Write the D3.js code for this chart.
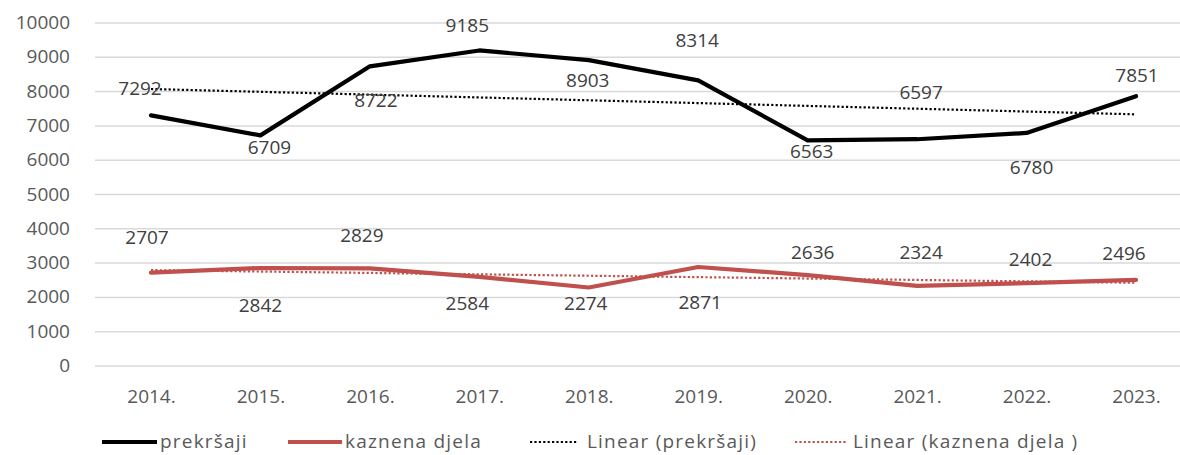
<!DOCTYPE html>
<html>
<head>
<meta charset="utf-8">
<script src="https://cdn.jsdelivr.net/npm/d3@7"></script>
<style>
  html, body { margin: 0; padding: 0; background: #fff; }
  svg { display: block; font-family: "Open Sans", sans-serif; }
</style>
</head>
<body>
<svg id="chart" width="1180" height="455"></svg>
<script>
"use strict";

const years = ["2014.", "2015.", "2016.", "2017.", "2018.", "2019.", "2020.", "2021.", "2022.", "2023."];
const prekrsaji = [7292, 6709, 8722, 9185, 8903, 8314, 6563, 6597, 6780, 7851];
const kaznenaDjela = [2707, 2842, 2829, 2584, 2274, 2871, 2636, 2324, 2402, 2496];
const yTicks = [0, 1000, 2000, 3000, 4000, 5000, 6000, 7000, 8000, 9000, 10000];

// label nudges (px, relative to the point) - copied from how excel placed them
const prekrsajiLabelDx = [-11, 9, 6, -12, -1, -1, 4, 4, 5, 1];
const prekrsajiLabelDy = [-27, 12, 34, -25, 20, -40, 11, -47, 34, -21];
const kaznenaLabelDx = [-4, 0, -8, -12, -3, 2, 5, 4, 4, -12];
const kaznenaLabelDy = [-35, 37, -33, 26, 16, 35, -23, -34, -24, -27];

const width = 1180;
const height = 455;
const plot = { left: 95, right: 1180, top: 22.5, bottom: 365.5 };

const svg = d3.select("#chart");

const x = d3.scalePoint()
  .domain(years)
  .range([plot.left + 56, plot.right - 44]);

const y = d3.scaleLinear()
  .domain([0, 10000])
  .range([plot.bottom, plot.top]);

// gridlines + y labels
const yAxis = svg.append("g")
  .attr("transform", `translate(${plot.left},0)`)
  .call(d3.axisLeft(y).tickValues(yTicks).tickSize(-(plot.right - plot.left)).tickPadding(25).tickFormat(d3.format("d")));
yAxis.select(".domain").remove();
yAxis.selectAll(".tick line").attr("stroke", "#d9d9d9").attr("stroke-width", 1.5);
yAxis.selectAll(".tick text")
  .attr("fill", "#595959")
  .style("font-size", "19px")
  .style("font-family", "'Open Sans', sans-serif");

const xAxis = svg.append("g")
  .attr("transform", `translate(0,${plot.bottom})`)
  .call(d3.axisBottom(x).tickSize(0).tickPadding(24));
xAxis.select(".domain").remove();
xAxis.selectAll(".tick text")
  .attr("fill", "#595959")
  .style("font-size", "19px")
  .style("font-family", "'Open Sans', sans-serif");

function trend(values) {
  const mx = d3.mean(values, (d, i) => i);
  const my = d3.mean(values);
  let sxy = 0, sxx = 0;
  values.forEach((v, i) => { sxy += (i - mx) * (v - my); sxx += (i - mx) * (i - mx); });
  const slope = sxy / sxx;
  return values.map((v, i) => my + slope * (i - mx));
}

const line = d3.line()
  .x((d, i) => x(years[i]))
  .y((d) => y(d));

const series = [
  { name: "prekršaji", values: prekrsaji, color: "#000000", dx: prekrsajiLabelDx, dy: prekrsajiLabelDy },
  { name: "kaznena djela", values: kaznenaDjela, color: "#c0504d", dx: kaznenaLabelDx, dy: kaznenaLabelDy }
];

// trend lines below the data lines
series.forEach((s) => {
  svg.append("path")
    .attr("d", line(trend(s.values)))
    .attr("fill", "none")
    .attr("stroke", s.color)
    .attr("stroke-width", 2.2)
    .attr("stroke-dasharray", "2.2,2.2");
});

series.forEach((s) => {
  svg.append("path")
    .attr("d", line(s.values))
    .attr("fill", "none")
    .attr("stroke", s.color)
    .attr("stroke-width", 4.2)
    .attr("stroke-linejoin", "round")
    .attr("stroke-linecap", "round");
});

series.forEach((s) => {
  svg.append("g")
    .selectAll("text")
    .data(s.values)
    .join("text")
    .attr("x", (d, i) => x(years[i]) + s.dx[i])
    .attr("y", (d, i) => y(d) + s.dy[i])
    .attr("dy", "0.36em")
    .attr("text-anchor", "middle")
    .attr("fill", "#404040")
    .style("font-size", "19px")
    .text((d) => d);
});

// legend
const legendItems = [
  { label: "prekršaji", color: "#000000", dash: null, x0: 102, x1: 157, tx: 160 },
  { label: "kaznena djela", color: "#c0504d", dash: null, x0: 288, x1: 342, tx: 345 },
  { label: "Linear (prekršaji)", color: "#000000", dash: "2.2,2.2", x0: 530, x1: 578, tx: 587 },
  { label: "Linear (kaznena djela )", color: "#c0504d", dash: "2.2,2.2", x0: 795, x1: 847, tx: 853 }
];
const legendY = 442;
const legend = svg.append("g");
legendItems.forEach((d) => {
  legend.append("line")
    .attr("x1", d.x0).attr("x2", d.x1)
    .attr("y1", legendY).attr("y2", legendY)
    .attr("stroke", d.color)
    .attr("stroke-width", d.dash ? 2.2 : 4.2)
    .attr("stroke-dasharray", d.dash);
  legend.append("text")
    .attr("x", d.tx)
    .attr("y", legendY)
    .attr("dy", "0.33em")
    .attr("fill", "#595959")
    .style("font-size", "19px")
    .style("letter-spacing", "1.2px")
    .text(d.label);
});
</script>
</body>
</html>
